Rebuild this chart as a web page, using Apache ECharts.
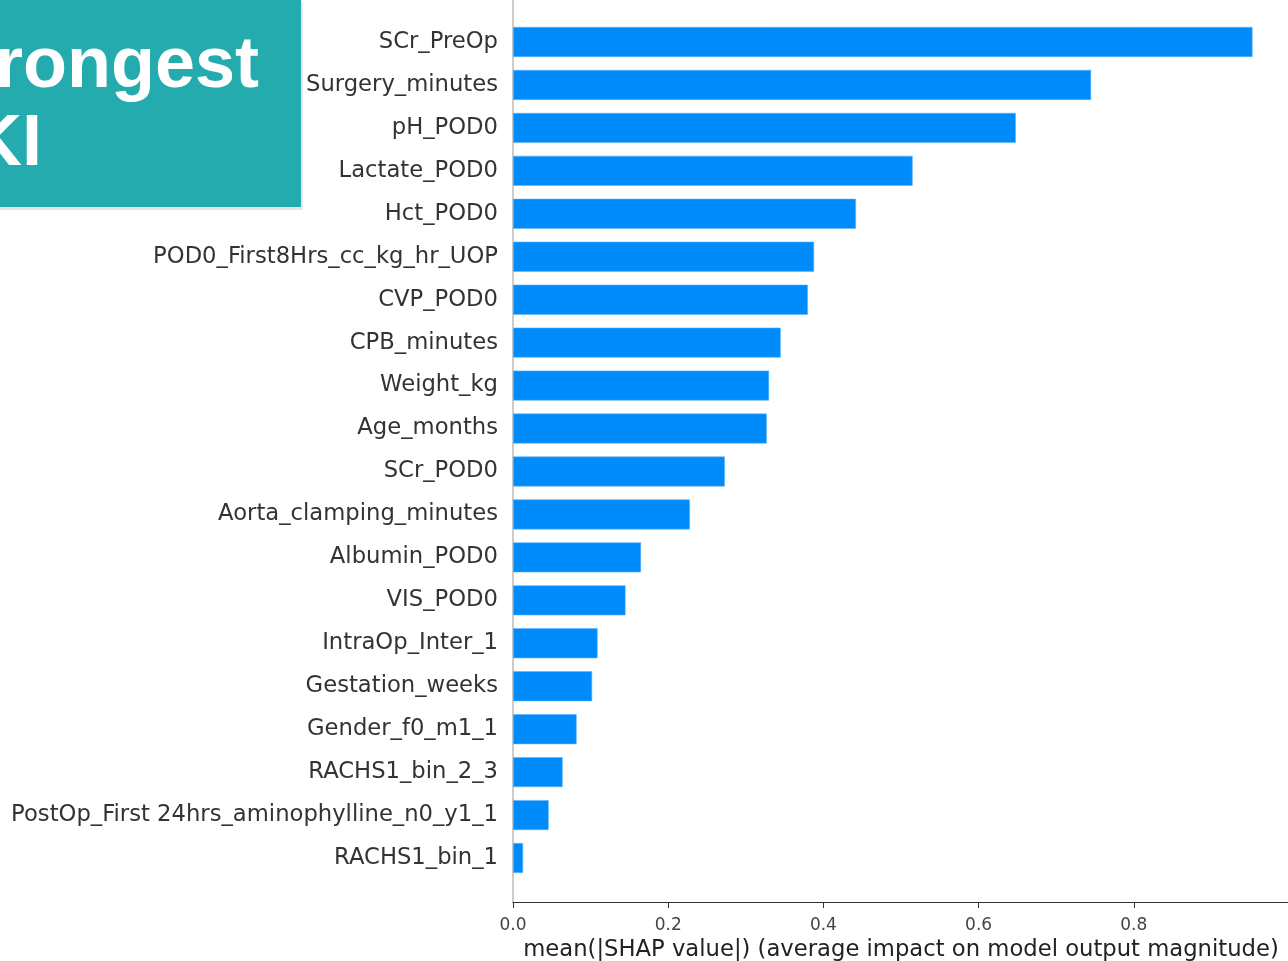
<!DOCTYPE html>
<html>
<head>
<meta charset="utf-8">
<script src="https://cdn.jsdelivr.net/npm/echarts@6/dist/echarts.min.js"></script>
<style>
html,body{margin:0;padding:0;background:#fff;}
#chart{width:1288px;height:961px;}
</style>
</head>
<body>
<div id="chart"></div>
<script>
const features = [
  "SCr_PreOp",
  "Surgery_minutes",
  "pH_POD0",
  "Lactate_POD0",
  "Hct_POD0",
  "POD0_First8Hrs_cc_kg_hr_UOP",
  "CVP_POD0",
  "CPB_minutes",
  "Weight_kg",
  "Age_months",
  "SCr_POD0",
  "Aorta_clamping_minutes",
  "Albumin_POD0",
  "VIS_POD0",
  "IntraOp_Inter_1",
  "Gestation_weeks",
  "Gender_f0_m1_1",
  "RACHS1_bin_2_3",
  "PostOp_First 24hrs_aminophylline_n0_y1_1",
  "RACHS1_bin_1"
];
const meanAbsShap = [0.953, 0.745, 0.648, 0.515, 0.442, 0.388, 0.380, 0.345, 0.330, 0.327,
                     0.273, 0.228, 0.165, 0.145, 0.109, 0.102, 0.082, 0.064, 0.046, 0.013];
const xTicks = ["0.0", "0.2", "0.4", "0.6", "0.8"];
const xAxisTitle = "mean(|SHAP value|) (average impact on model output magnitude)";
const slideText1 = "rongest";
const slideText2 = "KI";

const chart = echarts.init(document.getElementById('chart'), null, {renderer: 'canvas'});
const font = "'DejaVu Sans', sans-serif";

chart.setOption({
  animation: false,
  backgroundColor: '#ffffff',
  grid: [
    {left: 513, right: -1, top: 20.5, bottom: 81.5, containLabel: false, outerBoundsMode: 'none'},
    {left: 513, right: -1, top: -1, bottom: 59, containLabel: false, outerBoundsMode: 'none'}
  ],
  xAxis: [
    {
      gridIndex: 0, type: 'value', min: 0, max: 1, interval: 0.2,
      axisLine: {show: false}, axisTick: {show: false}, axisLabel: {show: false}, splitLine: {show: false}
    },
    {
      gridIndex: 1, type: 'value', min: 0, max: 1, interval: 0.2,
      name: xAxisTitle,
      nameLocation: 'middle',
      nameGap: 37,
      nameTextStyle: {fontFamily: font, fontSize: 22.7, color: '#222'},
      axisLine: {show: true, onZero: false, lineStyle: {color: '#333', width: 1.2}},
      axisTick: {show: true, length: 6, lineStyle: {color: '#333'}},
      axisLabel: {
        fontFamily: font, fontSize: 17, color: '#444', margin: 15,
        showMaxLabel: false,
        formatter: v => { const i = Math.round(v / 0.2); return xTicks[i] !== undefined ? xTicks[i] : ''; }
      },
      splitLine: {show: false}
    }
  ],
  yAxis: [
    {
      gridIndex: 0, type: 'category', inverse: true,
      data: features,
      axisLine: {show: false},
      axisTick: {show: false},
      splitLine: {show: false},
      axisLabel: {fontFamily: font, fontSize: 22.7, color: '#333', margin: 15, interval: 0,
                  padding: [8, 0, 0, 0]}
    },
    {
      gridIndex: 1, type: 'value', min: 0, max: 1,
      axisLine: {show: true, onZero: false, lineStyle: {color: '#bbb', width: 1.5}},
      axisTick: {show: false}, axisLabel: {show: false}, splitLine: {show: false}
    }
  ],
  series: [{
    type: 'bar',
    xAxisIndex: 0, yAxisIndex: 0,
    barWidth: 30,
    itemStyle: {color: '#008bfb', borderColor: '#5fb3fb', borderWidth: 0.6},
    data: meanAbsShap
  }],
  graphic: [
    {type: 'rect', left: 0, top: 2, shape: {x: 0, y: 0, width: 303, height: 208},
     style: {fill: '#e6e6e6'}, z: 99},
    {type: 'rect', left: 0, top: 0, shape: {x: 0, y: 0, width: 301, height: 207},
     style: {fill: '#24abad'}, z: 100},
    {type: 'text', x: -5, y: 103, z: 101,
     style: {text: slideText1, fill: '#ffffff', font: "bold 72px 'Liberation Sans', Arial, sans-serif",
             textVerticalAlign: 'bottom'}},
    {type: 'text', x: -30, y: 181, z: 101,
     style: {text: slideText2, fill: '#ffffff', font: "bold 72px 'Liberation Sans', Arial, sans-serif",
             textVerticalAlign: 'bottom'}}
  ]
});
</script>
</body>
</html>
